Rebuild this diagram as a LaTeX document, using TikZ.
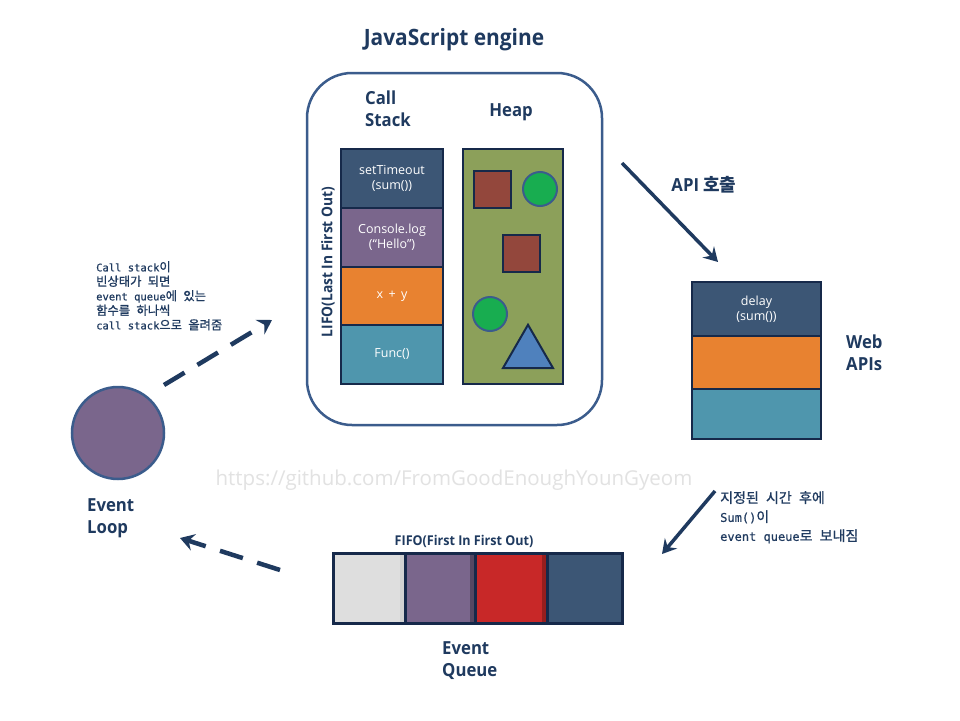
\documentclass[tikz,border=0pt]{standalone}
\usepackage{fontspec}
\setmainfont{Open Sans}
\newfontfamily\hd[FakeStretch=0.93]{Open Sans}
\newfontfamily\kr{Noto Sans CJK KR}
\newfontfamily\krn[FakeBold=1]{Noto Sans CJK KR}
\newfontfamily\mono[FakeBold=0.5]{DejaVu Sans Mono}
\usetikzlibrary{arrows.meta,shapes.geometric}
\newcommand\kor[1]{{\krn\fontsize{12.3}{14.5}\selectfont #1}}
\newcommand\korb[1]{{\krn\fontsize{14}{19}\selectfont #1}}
\definecolor{navy}{HTML}{1F3A5F}
\definecolor{bordc}{HTML}{16294A}
\definecolor{ring}{HTML}{3B5C8C}
\definecolor{cnavy}{HTML}{3C5675}
\definecolor{cpurple}{HTML}{7A668C}
\definecolor{corange}{HTML}{E88230}
\definecolor{cteal}{HTML}{4F96AD}
\definecolor{cheap}{HTML}{8CA05A}
\definecolor{cbrown}{HTML}{93473C}
\definecolor{cgreen}{HTML}{18AD50}
\definecolor{cblue}{HTML}{4F81BD}
\definecolor{cgray}{HTML}{DEDEDE}
\definecolor{cred}{HTML}{C82828}
\definecolor{wm}{HTML}{E2E2E2}
\tikzset{
  cell/.style={draw=bordc, line width=2.5pt, text=white, align=center, inner sep=0pt,
    font=\fontsize{12.5}{15}\selectfont},
  label/.style={text=navy, font=\hd\bfseries\fontsize{18}{22}\selectfont, align=left, inner sep=0pt},
  heapsq/.style={draw=bordc, line width=2pt, fill=cbrown, minimum size=37pt, inner sep=0pt},
  heapci/.style={circle, draw=ring, line width=2pt, fill=cgreen, minimum size=34pt, inner sep=0pt},
  qcell/.style={draw=bordc, line width=3pt, minimum width=72pt, minimum height=70pt, inner sep=0pt},
  strip/.style={path picture={\fill[#1] ([xshift=-5pt]path picture bounding box.north east) rectangle (path picture bounding box.south east);}},
  solidarrow/.style={draw=navy, line width=3.5pt, -{Stealth[length=14pt,width=16pt,inset=5pt]}},
  dasharrow/.style={draw=navy, line width=4.5pt, dash pattern=on 24pt off 15pt, -{Stealth[length=14pt,width=17pt,inset=5pt]}},
  note/.style={text=navy, align=left, inner sep=0pt, anchor=north west},
}
\begin{document}
\begin{tikzpicture}[x=1pt,y=-1pt]
\useasboundingbox[fill=white] (0,0) rectangle (960,720);

% title
\node[text=navy, font=\hd\bfseries\fontsize{22.5}{26}\selectfont, inner sep=0pt] (title) at (454,40) {JavaScript engine};

% engine box
\node[draw=ring, line width=2.5pt, rounded corners=45pt, minimum width=295pt, minimum height=352pt] (engine) at (454.5,249) {};

\node[label, anchor=north west] (cslabel) at (365,91) {Call\\Stack};
\node[label] (heaplabel) at (511,112) {Heap};

% call stack
\node[cell, fill=cnavy, minimum width=102pt, minimum height=59pt] (s1) at (392,178.5) {setTimeout\\(sum())};
\node[cell, fill=cpurple, minimum width=102pt, minimum height=59pt] (s2) at (392,237.5) {Console.log\\(``Hello'')};
\node[cell, fill=corange, minimum width=102pt, minimum height=58pt] (s3) at (392,296) {x \,+\, y};
\node[cell, fill=cteal, minimum width=102pt, minimum height=59pt] (s4) at (392,354.5) {Func()};
\node[text=navy, rotate=90, font=\hd\bfseries\fontsize{14.8}{17}\selectfont, inner sep=0pt] (lifo) at (328,262) {LIFO(Last In First Out)};

% heap
\node[draw=bordc, line width=2.5pt, fill=cheap, minimum width=100pt, minimum height=235pt] (heap) at (513,266.5) {};
\node[heapsq] (sq1) at (492.5,189.5) {};
\node[heapci] (ci1) at (540,189) {};
\node[heapsq] (sq2) at (521,253) {};
\node[heapci] (ci2) at (490,314) {};
\node[regular polygon, regular polygon sides=3, draw=bordc, line width=2pt, fill=cblue, minimum size=57.7pt, inner sep=0pt] (tri) at (528,353.6) {};

% API call arrow
\coordinate (a1s) at (622,163);
\coordinate (a1e) at (718,262);
\draw[solidarrow] (a1s) -- (a1e);
\node[text=navy, font=\hd\bfseries\fontsize{18}{21}\selectfont, inner sep=0pt] (apicall) at (704,185) {API {\kr\bfseries 호출}};

% web apis
\node[cell, fill=cnavy, minimum width=129pt, minimum height=54pt] (w1) at (756.5,309) {delay\\(sum())};
\node[cell, fill=corange, minimum width=129pt, minimum height=53pt] (w2) at (756.5,362.5) {};
\node[cell, fill=cteal, minimum width=129pt, minimum height=50pt] (w3) at (756.5,414) {};
\node[label, anchor=north west] (weblabel) at (846,335) {Web\\APIs};

% watermark
\node[text=wm, font=\fontsize{20.5}{24}\selectfont, inner sep=0pt] (watermark) at (454,480) {https://github.com/FromGoodEnoughYounGyeom};

% arrow to queue
\coordinate (a2s) at (715,491);
\coordinate (a2e) at (662,554);
\draw[solidarrow] (a2s) -- (a2e);
\node[note, font=\mono\fontsize{12}{19}\selectfont] (note2) at (720,491) {\korb{지정된} \korb{시간} \korb{후에}\\Sum()\korb{이}\\event queue\korb{로} \korb{보내짐}};

% event queue
\node[text=navy, font=\hd\bfseries\fontsize{13.5}{16}\selectfont, inner sep=0pt] (fifo) at (464,541) {FIFO(First In First Out)};
\node[qcell, fill=cgray, strip={black!18}] (q1) at (369,588) {};
\node[qcell, fill=cpurple, strip={black!30!cpurple}, minimum width=70pt] (q2) at (440,588) {};
\node[qcell, fill=cred, strip={black!25!cred}] (q3) at (511,588) {};
\node[qcell, fill=cnavy, minimum width=75pt] (q4) at (584.5,588) {};
\node[label, anchor=north west] (eqlabel) at (442,641) {Event\\Queue};

% queue -> loop
\coordinate (d1s) at (280,570);
\coordinate (d1e) at (180,538);
\draw[dasharrow] (d1s) -- (d1e);

% event loop
\node[circle, draw=ring, line width=2.5pt, fill=cpurple, minimum size=92pt, inner sep=0pt] (loop) at (118,433) {};
\node[label, anchor=north west] (looplabel) at (87,498) {Event\\Loop};

% loop -> stack
\coordinate (d2s) at (164,385);
\coordinate (d2e) at (272,320);
\draw[dasharrow] (d2s) -- (d2e);
\node[note, font=\mono\fontsize{10.5}{14.5}\selectfont] (note1) at (96,261) {Call stack\kor{이}\\\kor{빈상태가} \kor{되면}\\event queue\kor{에} \kor{있는}\\\kor{함수를} \kor{하나씩}\\call stack\kor{으로} \kor{올려줌}};
\end{tikzpicture}
\end{document}
